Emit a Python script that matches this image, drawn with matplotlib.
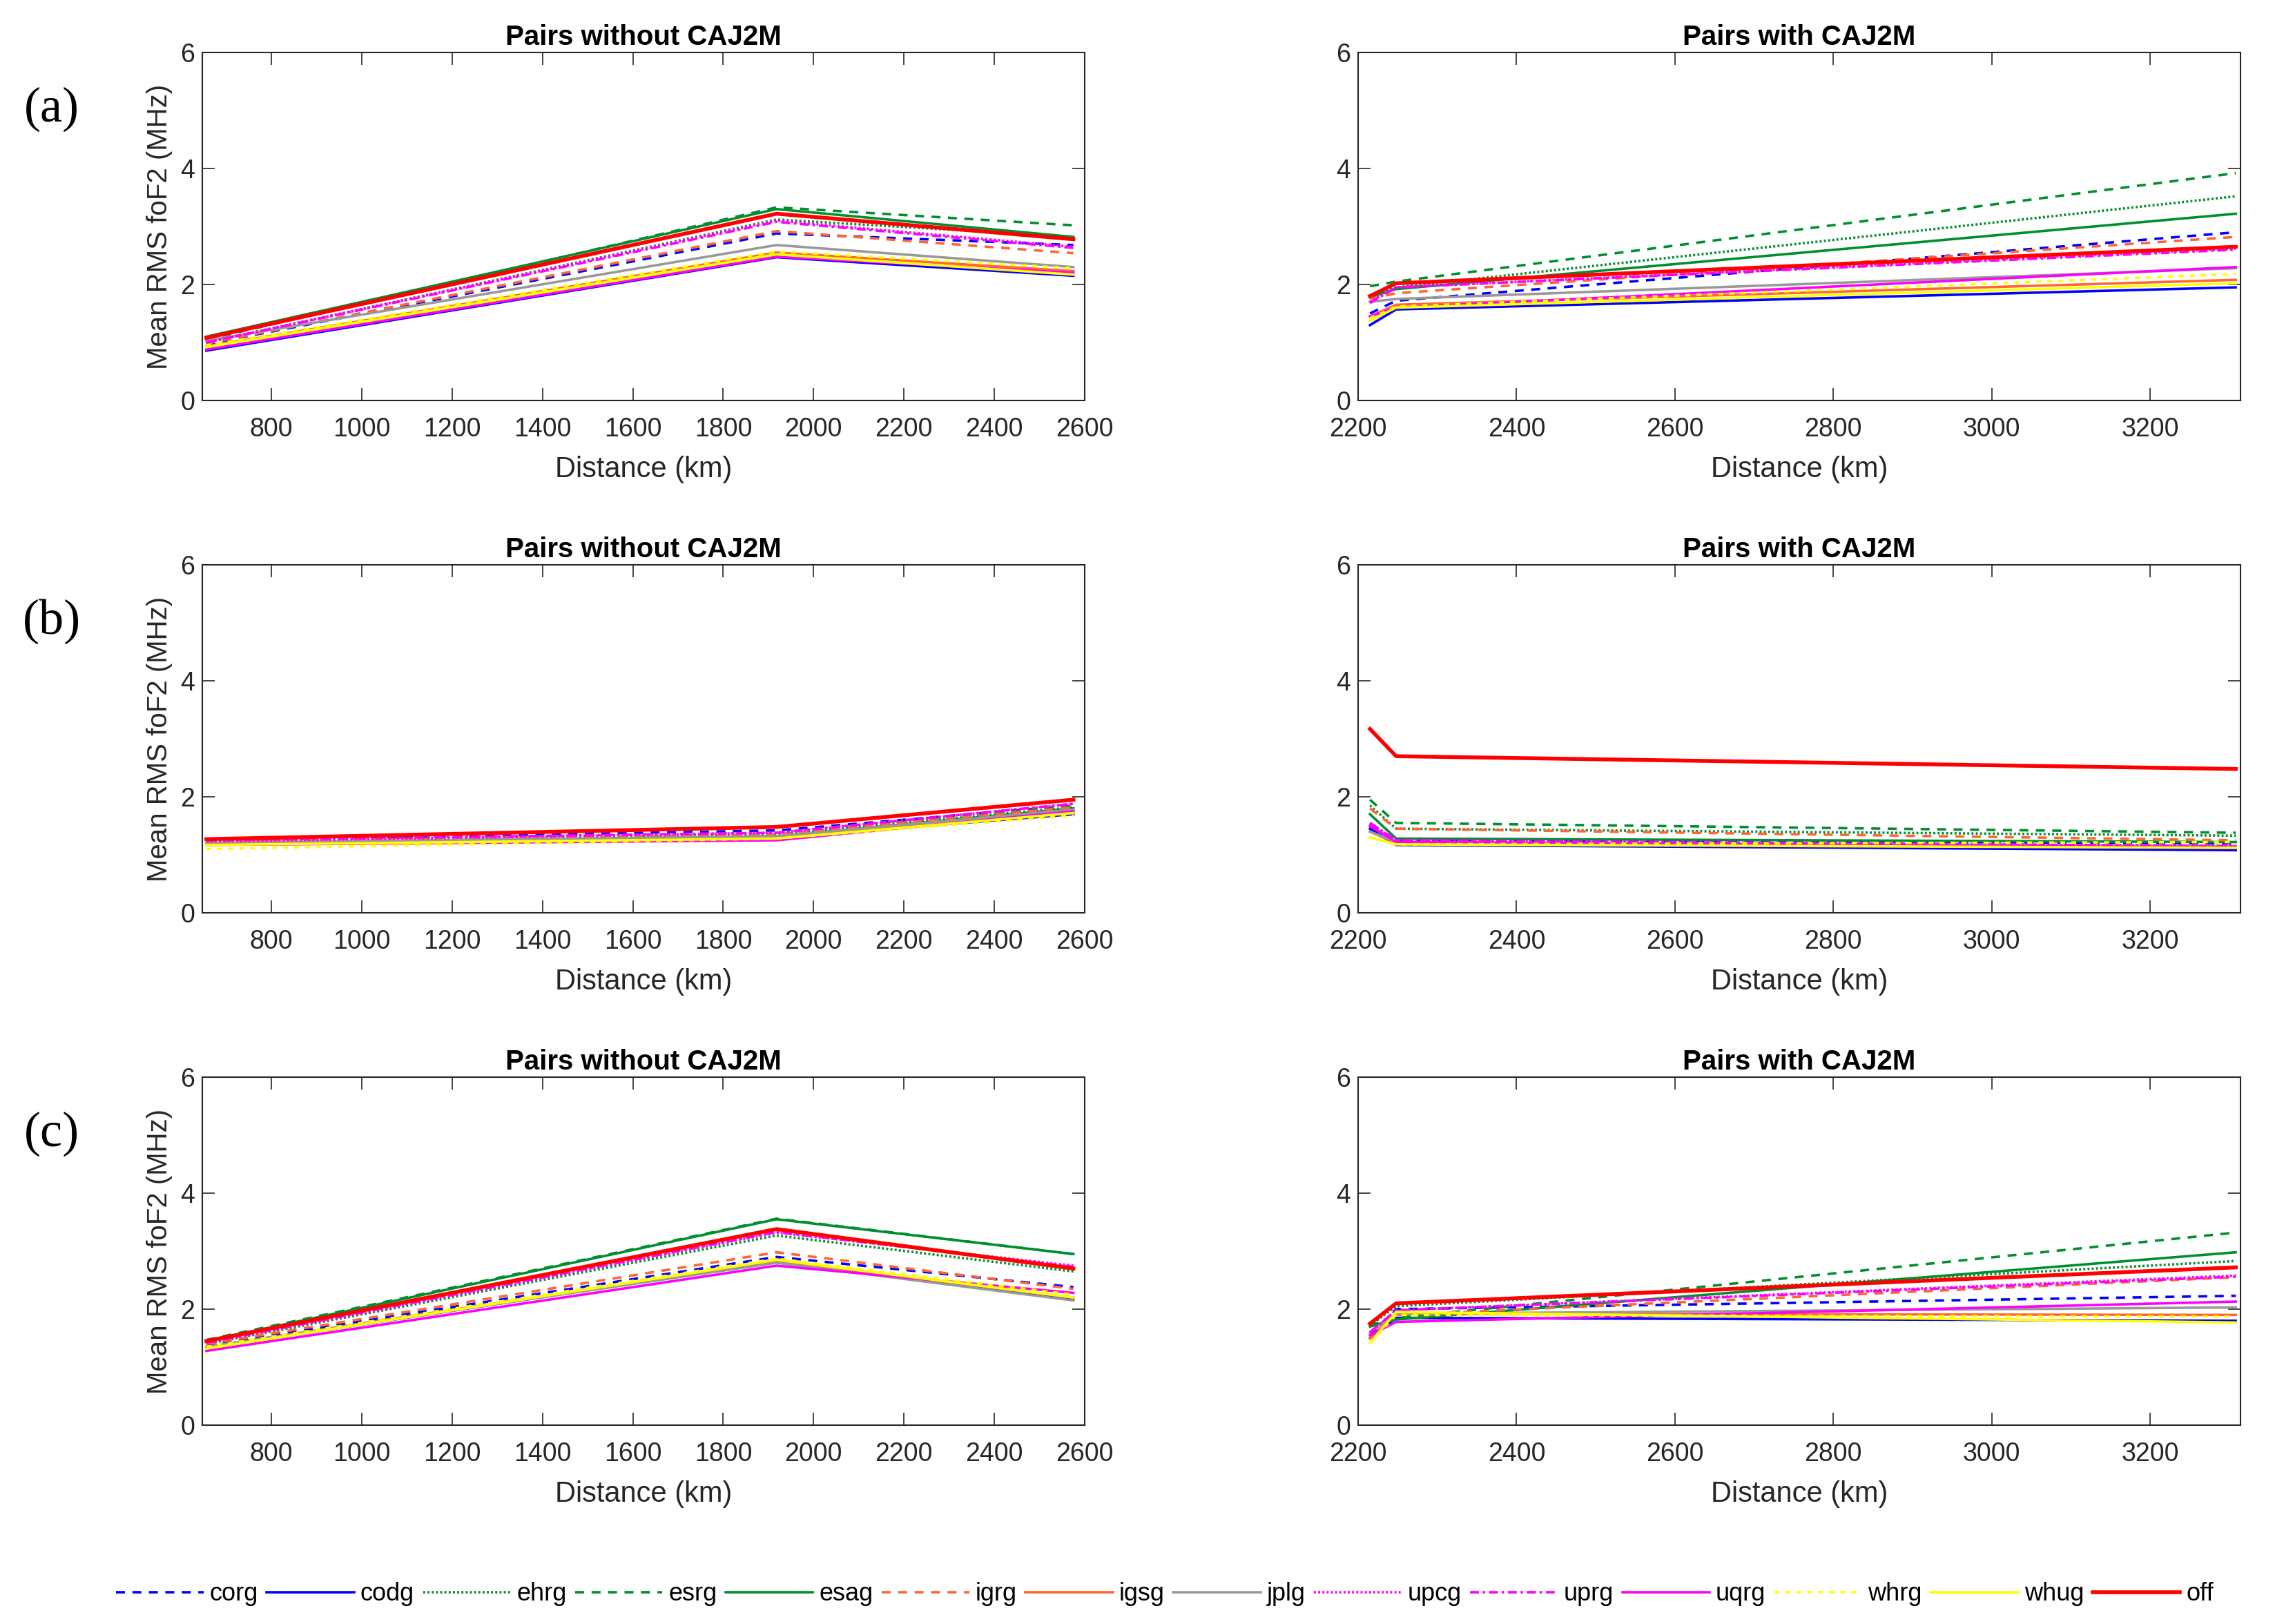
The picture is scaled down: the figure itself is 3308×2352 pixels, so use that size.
import matplotlib
matplotlib.use("Agg")
import matplotlib.pyplot as plt

plt.rcParams['font.family'] = ['Liberation Sans', 'DejaVu Sans']

# centres / models, in legend order
names = ['corg', 'codg', 'ehrg', 'esrg', 'esag', 'igrg', 'igsg',
         'jplg', 'upcg', 'uprg', 'uqrg', 'whrg', 'whug', 'off']

# distances of the station pairs (km)
dist_without = [656, 1918, 2575]
dist_with = [2215, 2248, 3308]

# mean RMS foF2 (MHz), one row per name, one column per distance
a_without = [
    [0.97, 2.88, 2.68], [0.86, 2.47, 2.15], [1.00, 3.12, 2.82], [1.05, 3.33, 3.02],
    [1.10, 3.30, 2.82], [0.98, 2.92, 2.54], [0.93, 2.55, 2.23], [1.03, 2.68, 2.30],
    [1.00, 3.10, 2.65], [1.00, 3.08, 2.63], [0.88, 2.48, 2.20], [0.95, 2.57, 2.28],
    [0.92, 2.52, 2.17], [1.08, 3.22, 2.78]]
a_with = [
    [1.50, 1.72, 2.90], [1.30, 1.57, 1.95], [1.80, 1.95, 3.52], [1.97, 2.05, 3.92],
    [1.78, 1.92, 3.22], [1.75, 1.85, 2.82], [1.45, 1.65, 2.08], [1.70, 1.75, 2.28],
    [1.70, 1.95, 2.62], [1.68, 1.95, 2.60], [1.45, 1.60, 2.30], [1.42, 1.62, 2.18],
    [1.38, 1.60, 2.02], [1.80, 2.02, 2.65]]
b_without = [
    [1.25, 1.42, 1.85], [1.18, 1.30, 1.70], [1.23, 1.35, 1.82], [1.22, 1.35, 1.85],
    [1.20, 1.32, 1.80], [1.23, 1.35, 1.82], [1.20, 1.30, 1.75], [1.20, 1.32, 1.78],
    [1.23, 1.38, 1.88], [1.25, 1.38, 1.88], [1.17, 1.25, 1.75], [1.10, 1.28, 1.68],
    [1.17, 1.28, 1.72], [1.27, 1.48, 1.95]]
b_with = [
    [1.50, 1.25, 1.20], [1.45, 1.17, 1.08], [1.85, 1.45, 1.33], [1.95, 1.55, 1.38],
    [1.70, 1.28, 1.22], [1.80, 1.45, 1.25], [1.40, 1.20, 1.13], [1.40, 1.22, 1.15],
    [1.55, 1.25, 1.15], [1.55, 1.25, 1.15], [1.50, 1.22, 1.12], [1.30, 1.18, 1.22],
    [1.30, 1.18, 1.12], [3.17, 2.70, 2.48]]
c_without = [
    [1.38, 2.90, 2.38], [1.33, 2.82, 2.18], [1.40, 3.27, 2.65], [1.47, 3.56, 2.95],
    [1.45, 3.55, 2.95], [1.40, 2.98, 2.35], [1.35, 2.83, 2.20], [1.35, 2.80, 2.15],
    [1.42, 3.32, 2.75], [1.42, 3.33, 2.73], [1.28, 2.75, 2.28], [1.35, 2.87, 2.25],
    [1.32, 2.85, 2.20], [1.45, 3.38, 2.70]]
c_with = [
    [1.55, 2.00, 2.23], [1.50, 1.85, 1.80], [1.72, 2.05, 2.83], [1.72, 1.85, 3.32],
    [1.70, 1.82, 2.98], [1.60, 1.90, 2.55], [1.50, 1.92, 1.90], [1.60, 1.92, 2.03],
    [1.60, 1.98, 2.58], [1.60, 1.98, 2.56], [1.55, 1.78, 2.13], [1.42, 1.90, 1.87],
    [1.42, 1.95, 1.77], [1.75, 2.10, 2.72]]

blue = '#0000FF'
green = '#008F2E'
orange = '#FF6633'
gray = '#999999'
magenta = '#FF00FF'
yellow = '#FFFF00'
red = '#FF0000'

dash = (0, (3.6, 3.0))
dots = (0, (0.8, 0.9))
styles = {
    'corg': (blue, dash), 'codg': (blue, '-'), 'ehrg': (green, dots),
    'esrg': (green, dash), 'esag': (green, '-'), 'igrg': (orange, dash),
    'igsg': (orange, '-'), 'jplg': (gray, '-'), 'upcg': (magenta, dots),
    'uprg': (magenta, (0, (3.6, 1.5, 1, 1.5))), 'uqrg': (magenta, '-'),
    'whrg': (yellow, (0, (2, 2.4))), 'whug': (yellow, '-'), 'off': (red, '-'),
}

W, H = 3308, 2352
fig = plt.figure(figsize=(W / 100, H / 100), dpi=100)

axc = '#262626'
rows = [('(a)', a_without, a_with, 76), ('(b)', b_without, b_with, 818),
        ('(c)', c_without, c_with, 1560)]
for label, left_vals, right_vals, top in rows:
    for col, (x, vals, title) in enumerate([(dist_without, left_vals, 'Pairs without CAJ2M'),
                                            (dist_with, right_vals, 'Pairs with CAJ2M')]):
        x0 = 293 if col == 0 else 1967
        ax = fig.add_axes([x0 / W, 1 - (top + 504) / H, 1278 / W, 504 / H])
        for n, v in zip(names, vals):
            c, ls = styles[n]
            lw = 4.0 if n == 'off' else 2.6
            ax.plot(x, v, color=c, linestyle=ls, lw=lw, label=n)
        if col == 0:
            ax.set_xlim(647, 2600)
            ax.set_xticks(range(800, 2601, 200))
            ax.set_ylabel('Mean RMS foF2 (MHz)', fontsize=29, color=axc, labelpad=8)
        else:
            ax.set_xlim(2200, 3314)
            ax.set_xticks(range(2200, 3201, 200))
        ax.set_ylim(0, 6)
        ax.set_yticks([0, 2, 4, 6])
        ax.set_title(title, fontsize=29, fontweight='bold', pad=8)
        ax.set_xlabel('Distance (km)', fontsize=30, color=axc, labelpad=15)
        ax.tick_params(direction='in', length=13, width=1.2, top=True, right=True,
                       labelsize=27, colors=axc)
        ax.tick_params(axis='x', pad=17)
        ax.tick_params(axis='y', pad=8)
        for s in ax.spines.values():
            s.set_linewidth(1.5)
            s.set_color(axc)
    fig.text(75 / W, 1 - (top + 82) / H, label, fontsize=52,
             family=['Liberation Serif', 'DejaVu Serif'], ha='center', va='center')

handles, labels = ax.get_legend_handles_labels()
fig.legend(handles, labels, loc='center', bbox_to_anchor=(0.51, 1 - 2309 / H),
           ncol=14, frameon=False, fontsize=26, handlelength=3.5,
           handletextpad=0.25, columnspacing=0.35)

fig.savefig('out.png', dpi=100, facecolor='white')
